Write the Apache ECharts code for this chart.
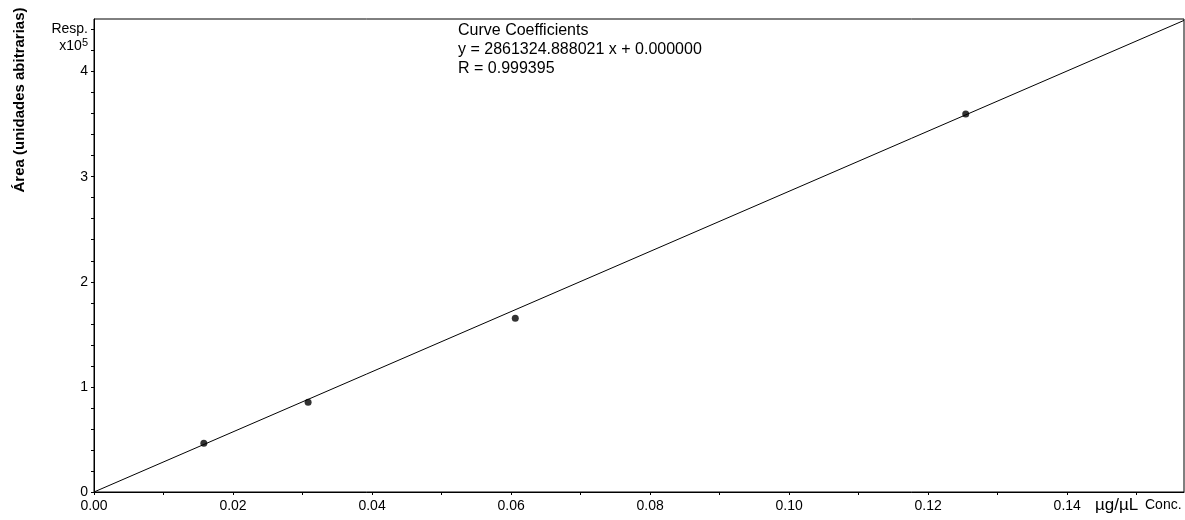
<!DOCTYPE html>
<html>
<head>
<meta charset="utf-8">
<script src="https://cdn.jsdelivr.net/npm/echarts@6/dist/echarts.min.js"></script>
<style>
  html, body { margin: 0; padding: 0; background: #fff; }
  #chart { width: 1185px; height: 520px; }
</style>
</head>
<body>
<div id="chart"></div>
<script>
// Calibration standards: concentration (µg/µL) and peak area response
const concentrations = [0.0158, 0.0308, 0.0606, 0.1254];
const areas = [46400, 85400, 165400, 359700];

// Linear fit through the origin
const slope = 2861324.888021;
const intercept = 0.0;
const rValue = 0.999395;

// Axis ranges
const xMax = 0.1568;
const yMax = 450000;

const tickFont = "'Liberation Sans', Arial, sans-serif";
const textFont = "'Liberation Sans', Arial, sans-serif";

const points = concentrations.map((c, i) => [c, areas[i]]);
const fitLine = [[0, intercept], [xMax, slope * xMax + intercept]];

const isMultiple = (v, step) => Math.abs(v / step - Math.round(v / step)) < 1e-6;

const chart = echarts.init(document.getElementById('chart'));
chart.setOption({
  animation: false,
  backgroundColor: '#ffffff',
  grid: {
    left: 94, right: 1, top: 19, bottom: 28,
    outerBoundsMode: 'none', containLabel: false,
    show: true, borderColor: '#000', borderWidth: 1
  },
  title: {
    left: 458, top: 21, padding: 0,
    text: 'Curve Coefficients\ny = ' + slope.toFixed(6) + ' x + ' + intercept.toFixed(6) + '\nR = ' + rValue.toFixed(6),
    textStyle: { fontFamily: textFont, fontSize: 16, fontWeight: 'normal', color: '#000', lineHeight: 19 }
  },
  xAxis: {
    type: 'value', min: 0, max: xMax, interval: 0.01,
    axisLine: { lineStyle: { color: '#000', width: 1 } },
    axisTick: { show: true, length: 3, lineStyle: { color: '#000' } },
    splitLine: { show: false },
    axisLabel: {
      margin: 7, color: '#000', fontFamily: tickFont, fontSize: 14,
      showMaxLabel: false,
      formatter: v => (isMultiple(v, 0.02) ? v.toFixed(2) : '')
    }
  },
  yAxis: {
    type: 'value', min: 0, max: yMax, interval: 20000,
    axisLine: { lineStyle: { color: '#000', width: 1 } },
    axisTick: { show: true, length: 3, lineStyle: { color: '#000' } },
    splitLine: { show: false },
    axisLabel: {
      margin: 6, color: '#000', fontFamily: tickFont, fontSize: 14,
      showMaxLabel: false,
      formatter: v => {
        if (Math.abs(v - 440000) < 1) return 'Resp.';
        if (Math.abs(v - 420000) < 1) return '{a|x10}{s|5}';
        return isMultiple(v, 100000) ? String(Math.round(v / 100000)) : '';
      },
      rich: {
        a: { fontFamily: tickFont, fontSize: 14, color: '#000', padding: [0, 0, 8, 0] },
        s: { fontFamily: tickFont, fontSize: 11, color: '#000', padding: [0, 0, 16, 0] }
      }
    }
  },
  graphic: [
    {
      type: 'text', left: 1095, top: 497,
      style: { text: 'µg/µL', fontFamily: textFont, fontSize: 17, fill: '#000' }
    },
    {
      type: 'text', left: 1145, top: 498,
      style: { text: 'Conc.', fontFamily: tickFont, fontSize: 14, fill: '#000' }
    },
    {
      type: 'text', x: 20, y: 100, rotation: Math.PI / 2,
      style: {
        text: 'Área (unidades abitrarias)', fontFamily: textFont, fontSize: 15,
        fontWeight: 'bold', fill: '#000', align: 'center', verticalAlign: 'middle'
      }
    }
  ],
  series: [
    {
      type: 'line', data: fitLine, symbol: 'none', silent: true,
      lineStyle: { color: '#000', width: 1 }
    },
    {
      type: 'scatter', data: points, symbol: 'circle', symbolSize: 7,
      itemStyle: { color: '#000' }
    }
  ]
});
</script>
</body>
</html>
